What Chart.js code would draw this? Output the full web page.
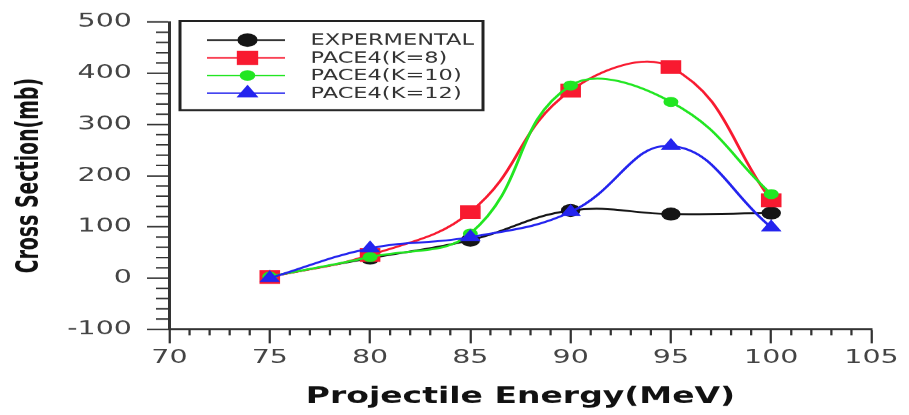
<!DOCTYPE html>
<html lang="en">
<head>
<meta charset="UTF-8">
<title>Cross Section vs Projectile Energy</title>
<script src="https://cdn.jsdelivr.net/npm/chart.js"></script>
<style>
  html, body { margin: 0; padding: 0; background: #fff; overflow: hidden; }
  /* the source figure is stretched sideways, so draw narrow and stretch it */
  #wrap { width: 606px; height: 415px; transform: scaleX(1.5); transform-origin: 0 0; }
</style>
</head>
<body>
<div id="wrap"><canvas id="chart"></canvas></div>
<script>
const energies = [75, 80, 85, 90, 95, 100];
const experimental = [3, 39, 74, 132, 125, 127];
const paceK8 = [2, 45, 129, 366, 412, 152];
const paceK10 = [3, 41, 87, 376, 344, 164];
const paceK12 = [0, 58, 80, 129, 258, 99];
const seriesNames = ['EXPERMENTAL', 'PACE4(K=8)', 'PACE4(K=10)', 'PACE4(K=12)'];
const xTicks = [70, 75, 80, 85, 90, 95, 100, 105];
const yTicks = [-100, 0, 100, 200, 300, 400, 500];

const axisColor = '#333';

function points(values) {
    return energies.map((e, i) => ({ x: e, y: values[i] }));
}

function series(label, values, color, style, radius, order) {
    return {
        label: label,
        data: points(values),
        borderColor: color,
        backgroundColor: color,
        borderWidth: 2,
        pointStyle: style,
        pointRadius: radius,
        pointBorderWidth: 1,
        tension: 0.42,
        order: order
    };
}

// small ticks between the labelled ones
const minorTicks = {
    id: 'minorTicks',
    afterDraw(chart) {
        const { ctx, scales: { x, y } } = chart;
        ctx.save();
        ctx.strokeStyle = axisColor;
        ctx.lineWidth = 1.5;
        ctx.beginPath();
        for (let v = x.min; v <= x.max; v += 1) {
            if (v % 5 === 0) continue;
            const px = x.getPixelForValue(v);
            ctx.moveTo(px, y.bottom);
            ctx.lineTo(px, y.bottom + 6);
        }
        for (let v = y.min; v <= y.max; v += 20) {
            if (v % 100 === 0) continue;
            const py = y.getPixelForValue(v);
            ctx.moveTo(x.left, py);
            ctx.lineTo(x.left - 9, py);
        }
        ctx.stroke();
        ctx.restore();
    }
};

// boxed legend in the top-left corner of the plot
const boxLegend = {
    id: 'boxLegend',
    afterDraw(chart) {
        const { ctx, chartArea } = chart;
        const left = chartArea.left + 7;
        const top = chartArea.top - 1;
        ctx.save();
        ctx.fillStyle = '#fff';
        ctx.fillRect(left, top, 202, 89);
        ctx.strokeStyle = '#222';
        ctx.lineWidth = 2;
        ctx.strokeRect(left, top, 202, 89);
        ctx.font = '15px "DejaVu Sans"';
        ctx.textBaseline = 'middle';
        chart.data.datasets.forEach((ds, i) => {
            const rowY = top + 19 + i * 17.7;
            ctx.strokeStyle = ds.borderColor;
            ctx.lineWidth = 1.5;
            ctx.beginPath();
            ctx.moveTo(left + 18, rowY);
            ctx.lineTo(left + 70, rowY);
            ctx.stroke();
            ctx.fillStyle = ds.backgroundColor;
            Chart.helpers.drawPoint(ctx, {
                pointStyle: ds.pointStyle,
                radius: ds.pointRadius,
                rotation: 0,
                borderWidth: 1
            }, left + 45, rowY);
            ctx.fillStyle = '#333';
            ctx.fillText(seriesNames[i], left + 87, rowY + 1);
        });
        ctx.restore();
    }
};

new Chart(document.getElementById('chart'), {
    type: 'line',
    data: {
        datasets: [
            series(seriesNames[0], experimental, '#151515', 'circle', 6, 3),
            series(seriesNames[1], paceK8, '#f81a30', 'rect', 9, 2),
            series(seriesNames[2], paceK10, '#22e622', 'circle', 4.5, 1),
            series(seriesNames[3], paceK12, '#2424ee', 'triangle', 7, 0)
        ]
    },
    options: {
        responsive: true,
        maintainAspectRatio: false,
        devicePixelRatio: 1.5,
        animation: false,
        layout: { padding: { top: 22, right: 25, left: 0, bottom: 0 } },
        plugins: {
            legend: { display: false },
            tooltip: { enabled: false }
        },
        scales: {
            x: {
                type: 'linear',
                min: 70,
                max: 105,
                afterBuildTicks: s => { s.ticks = xTicks.map(v => ({ value: v })); },
                afterFit: s => { s.height = 86; },
                border: { display: true, color: axisColor, width: 2 },
                grid: {
                    drawOnChartArea: false,
                    drawTicks: true,
                    tickLength: 14,
                    tickWidth: 1.5,
                    tickColor: axisColor
                },
                ticks: {
                    autoSkip: false,
                    maxRotation: 0,
                    padding: 3,
                    color: '#444',
                    font: { family: 'DejaVu Sans', size: 19 }
                },
                title: {
                    display: true,
                    text: 'Projectile Energy(MeV)',
                    color: '#111',
                    padding: { top: 0, bottom: 5 },
                    font: { family: 'DejaVu Sans', weight: 'bold', size: 22 }
                }
            },
            y: {
                min: -100,
                max: 500,
                afterBuildTicks: s => { s.ticks = yTicks.map(v => ({ value: v })); },
                afterFit: s => { s.width = 113; },
                border: { display: true, color: axisColor, width: 2 },
                grid: {
                    drawOnChartArea: false,
                    drawTicks: true,
                    tickLength: 15,
                    tickWidth: 1.5,
                    tickColor: axisColor
                },
                ticks: {
                    padding: 10,
                    color: '#444',
                    font: { family: 'DejaVu Sans', size: 19 }
                },
                title: {
                    display: true,
                    text: 'Cross Section(mb)',
                    color: '#111',
                    padding: { top: 7, bottom: 0 },
                    font: { family: 'DejaVu Sans Condensed', weight: 'bold', size: 21 }
                }
            }
        }
    },
    plugins: [minorTicks, boxLegend]
});
</script>
</body>
</html>
